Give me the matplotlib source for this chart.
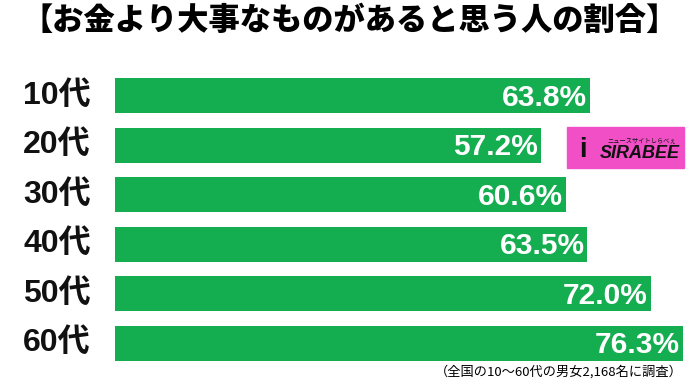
import matplotlib.pyplot as plt
from matplotlib.patches import Rectangle

plt.rcParams['font.family'] = ['Liberation Sans', 'Noto Sans CJK JP', 'DejaVu Sans']

ages = ['10代', '20代', '30代', '40代', '50代', '60代']
values = [63.8, 57.2, 60.6, 63.5, 72.0, 76.3]
title = '【お金より大事なものがあると思う人の割合】'
note = '（全国の10～60代の男女2,168名に調査）'

W, H = 700, 381
fig = plt.figure(figsize=(W / 100, H / 100), dpi=100)

# axes placed in pixel terms: bars start at x=115, rows from y=71 to y=368
ax = fig.add_axes([115 / W, 1 - 368 / H, 1 - 115 / W, (368 - 71) / H])
ax.barh(range(len(ages)), values, height=0.71, color='#14ad50')
ax.set_xlim(0, 585 / 7.44)
ax.set_ylim(len(ages) - 0.5, -0.5)
ax.axis('off')

for i, v in enumerate(values):
    ax.text(v - 0.4, i + 0.04, f'{v:.1f}%', ha='right', va='center',
            color='white', fontsize=21.5, fontweight='bold')
    fig.text(57 / W, 1 - (96 + 49.4 * i) / H, ages[i], ha='center', va='center',
             fontsize=23, fontweight='bold', color='#111111',
             family=['Liberation Sans', 'Noto Sans CJK JP'])

fig.text(0.5, 1 - 20 / H, title, ha='center', va='center', fontsize=22.5,
         fontweight='black', family=['Noto Sans CJK JP'])
fig.text(683 / W, 1 - 372 / H, note, ha='right', va='center', fontsize=9.5,
         family=['Noto Sans CJK JP'])

# logo box
fig.patches.append(Rectangle((567 / W, 1 - 168 / H), 117 / W, 41 / H,
                             transform=fig.transFigure, color='#f04fc6'))
fig.text(583 / W, 1 - 150 / H, 'i', ha='center', va='center', fontsize=20,
         fontweight='bold', color='#111111')
fig.text(640 / W, 1 - 154 / H, 'SIRABEE', ha='center', va='center', fontsize=13,
         fontweight='bold', style='italic', color='#111111')
fig.text(642 / W, 1 - 140 / H, 'ニュースサイトしらべぇ', ha='center', va='center',
         fontsize=4.5, color='#111111', family=['Noto Sans CJK JP'])

fig.savefig('out.png', dpi=100)
